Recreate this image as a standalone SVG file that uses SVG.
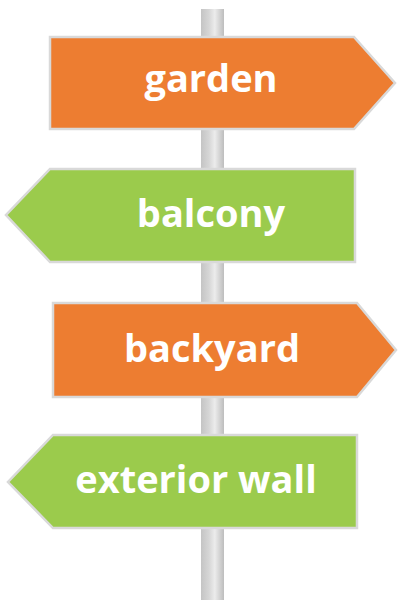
<svg xmlns="http://www.w3.org/2000/svg" width="398" height="600" viewBox="0 0 398 600">
<defs>
<linearGradient id="pole" x1="0" y1="0" x2="1" y2="0">
<stop offset="0" stop-color="#c4c4c4"/>
<stop offset="0.35" stop-color="#d6d6d6"/>
<stop offset="0.6" stop-color="#ececec"/>
<stop offset="1" stop-color="#bdbdbd"/>
</linearGradient>
<style>
.orange{fill:#ED7D31;stroke:#D9D9D9;stroke-width:2.5;stroke-linejoin:miter}
.green{fill:#9BCB4C;stroke:#D9D9D9;stroke-width:2.5;stroke-linejoin:miter}
.lbl{font-family:"Open Sans","DejaVu Sans",sans-serif;font-weight:bold;font-size:38px;fill:#FFFFFF;text-anchor:middle}
</style>
</defs>
<rect width="398" height="600" fill="#FFFFFF"/>
<g id="pole-group">
<rect x="201" y="9" width="23" height="591" fill="url(#pole)"/>
</g>
<g id="connectors"></g>
<g id="garden">
<polygon class="orange" points="50,37 354,37 395,83 354,129 50,129"/>
<text class="lbl" x="211" y="92">garden</text>
</g>
<g id="balcony">
<polygon class="green" points="50,169 355,169 355,262 50,262 6,215"/>
<text class="lbl" x="211" y="227">balcony</text>
</g>
<g id="backyard">
<polygon class="orange" points="53,303 357,303 396,350 357,397 53,397"/>
<text class="lbl" x="212" y="362">backyard</text>
</g>
<g id="exterior-wall">
<polygon class="green" points="53,435 357,435 357,528 53,528 8,482"/>
<text class="lbl" x="196" y="493">exterior wall</text>
</g>
</svg>
